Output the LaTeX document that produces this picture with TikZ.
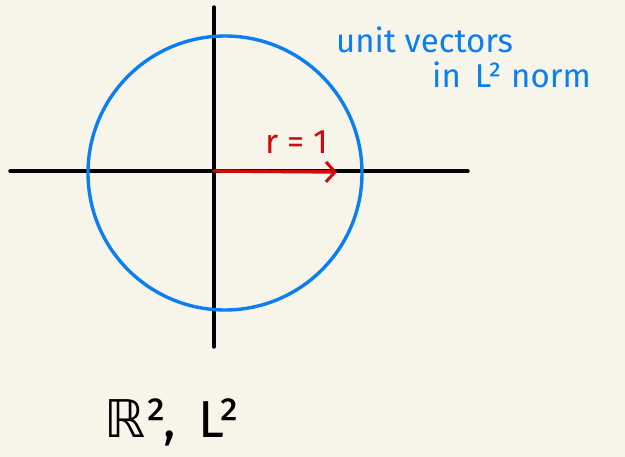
\documentclass[tikz,border=0pt]{standalone}
\usepackage{fontspec}
\setmainfont{Fira Sans}
\newfontfamily\symfont{DejaVu Sans}
\usetikzlibrary{arrows.meta}
\definecolor{bg}{HTML}{F7F5E9}
\definecolor{penblue}{HTML}{0A7EF2}
\definecolor{penred}{HTML}{D20A0A}
\tikzset{
  axis/.style={line width=3.4pt, black, line cap=round},
  ring/.style={line width=3.4pt, penblue},
  radius arrow/.style={line width=3.4pt, penred, line cap=round, -{Straight Barb[length=9pt,width=20pt,line width=3pt]}},
  bluenote/.style={text=penblue, font=\fontsize{33}{35}\selectfont, inner sep=0pt, anchor=west},
  rednote/.style={text=penred, font=\fontsize{34}{36}\selectfont, inner sep=0pt},
  bignote/.style={text=black, font=\fontsize{52}{54}\selectfont, inner sep=0pt, anchor=west}
}
\begin{document}
\begin{tikzpicture}[x=1pt,y=-1pt]
\fill[bg] (0,0) rectangle (625,457);
\useasboundingbox (0,0) rectangle (625,457);
\coordinate (xl) at (10,171);
\coordinate (xr) at (468,171);
\coordinate (yt) at (214,7);
\coordinate (yb) at (214,347);
\coordinate (o) at (214,171);
\coordinate (c) at (225,173);
\coordinate (tip) at (337,172);
\draw[axis] (xl) -- (xr);
\draw[axis] (yt) -- (yb);
\draw[ring] (c) circle[radius=137];
\draw[radius arrow] (o) -- (tip);
\node[rednote] (r) at (297,142) {r = 1};
\node[bluenote] (t1) at (336,40) {unit vectors};
\node[bluenote] (t2) at (432,75) {in\hspace{14pt}L²\hspace{10pt}norm};
\node[bignote] (b) at (104,422) {{\symfont ℝ}²,\hspace{22pt}L²};
\end{tikzpicture}
\end{document}
